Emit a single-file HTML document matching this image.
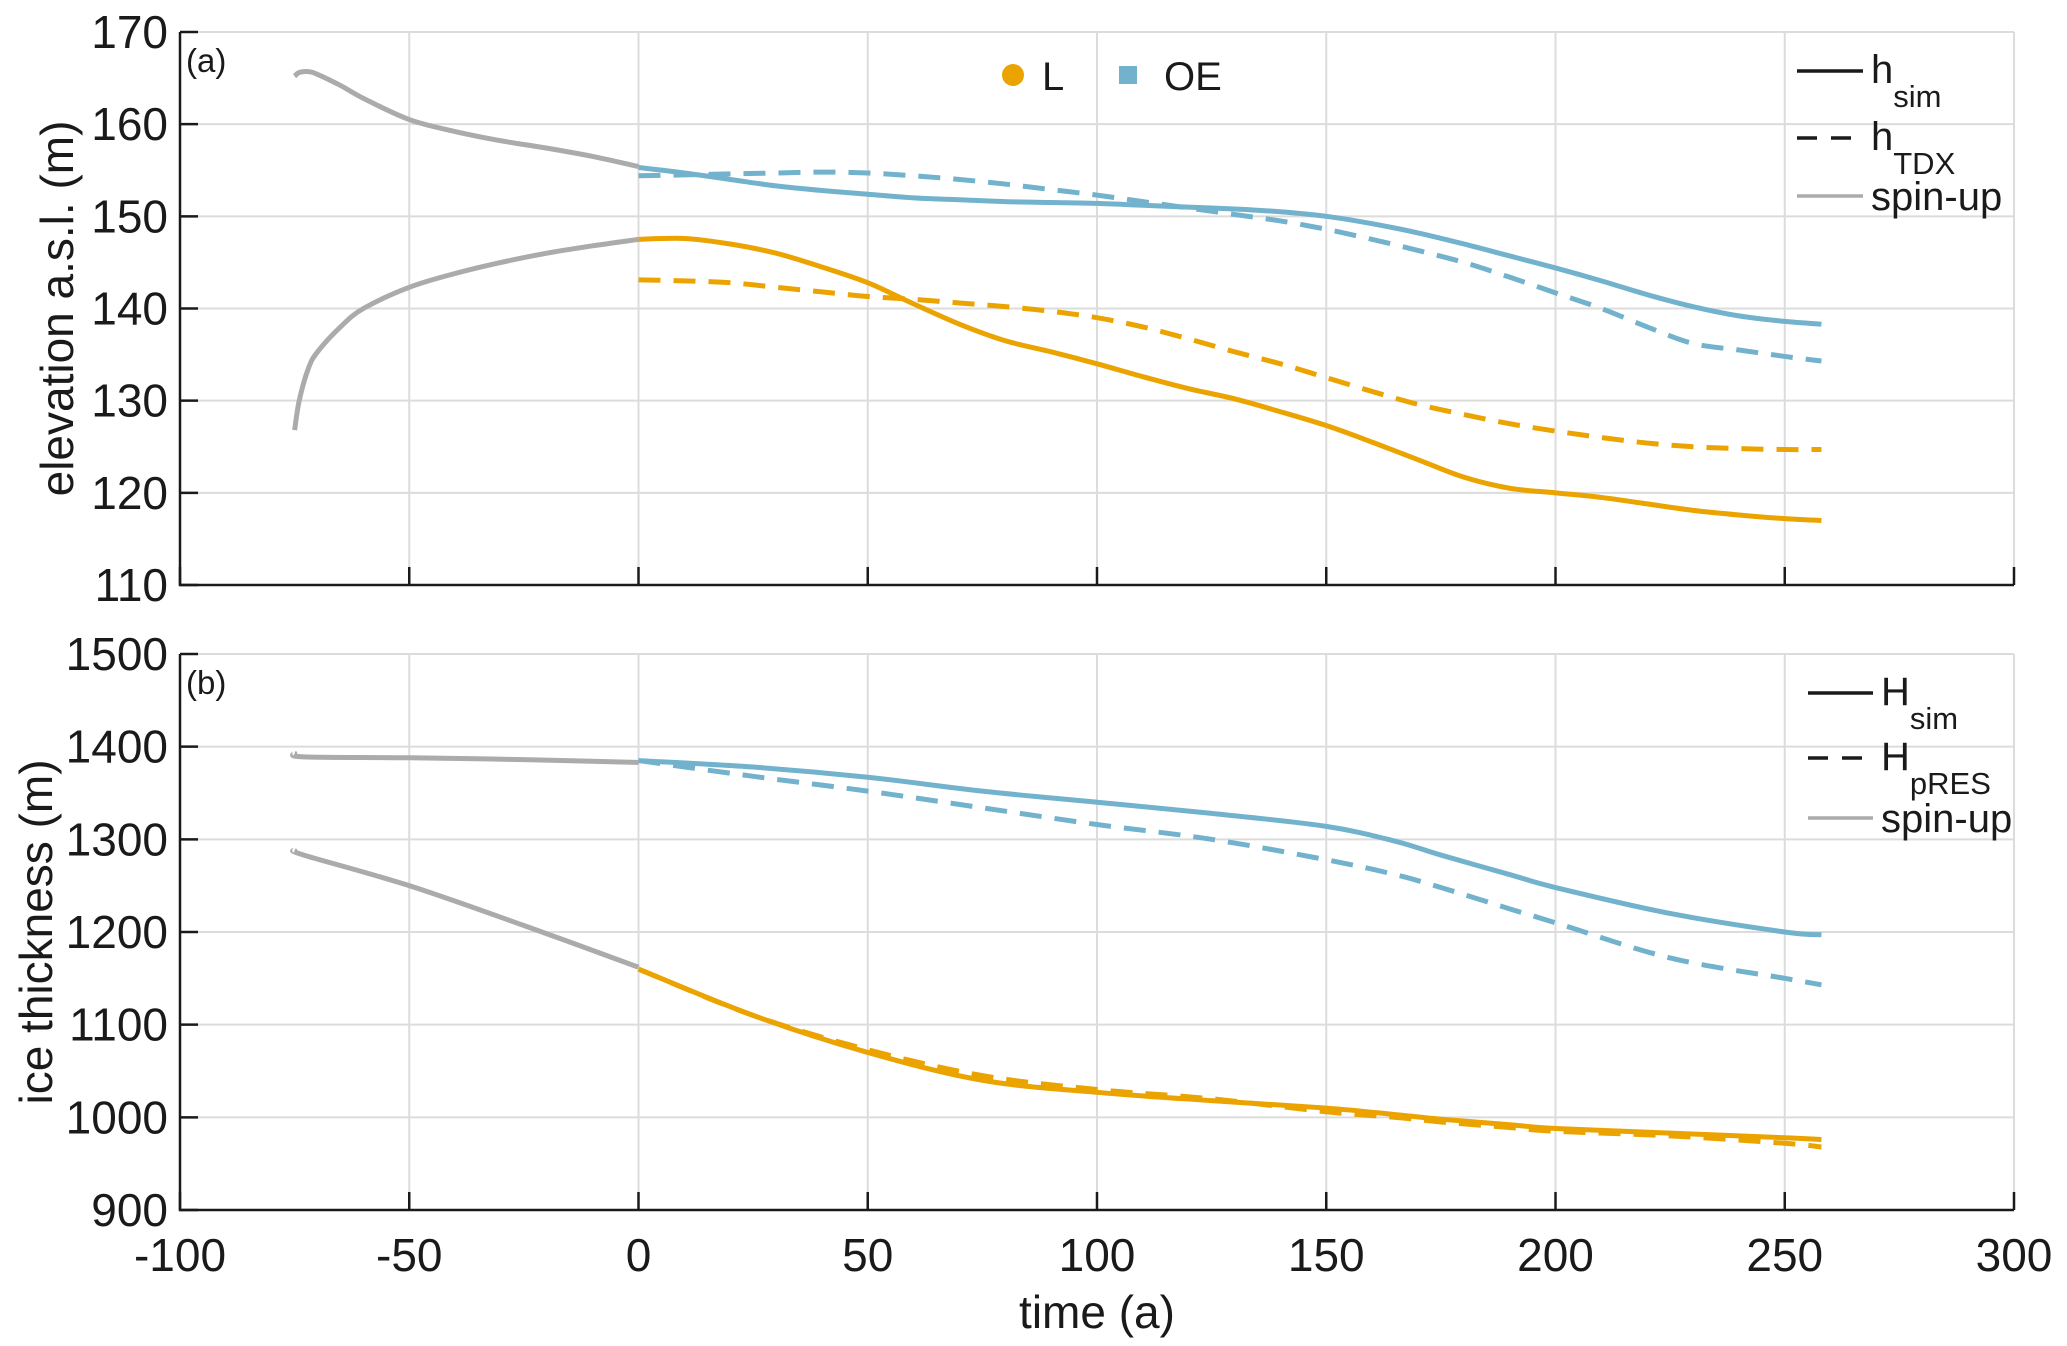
<!DOCTYPE html>
<html><head><meta charset="utf-8"><style>
html,body{margin:0;padding:0;background:#fff;}
svg{display:block;font-family:"Liberation Sans",Arial,sans-serif;}
</style></head><body>
<svg id="chart" width="2067" height="1346" viewBox="0 0 2067 1346" xmlns="http://www.w3.org/2000/svg"></svg>
<script>
const xTicks=[-100,-50,0,50,100,150,200,250,300];
const yTicksA=[110,120,130,140,150,160,170];
const yTicksB=[900,1000,1100,1200,1300,1400,1500];
const tSpinA=[-75,-74,-72,-70,-65,-60,-50,-40,-30,-20,-10,0];
const spinUpperA=[165.2,165.6,165.7,165.4,164.2,162.8,160.5,159.2,158.2,157.4,156.5,155.4];
const spinLowerA=[126.8,130,133.5,135.3,138,140,142.3,143.8,145,146,146.8,147.5];
const tA=[0,10,20,30,40,50,60,70,80,90,100,110,120,130,140,150,160,170,180,190,200,210,220,230,240,250,258];
const lSimA=[147.5,147.6,147,146,144.5,142.8,140.5,138.3,136.5,135.3,134,132.6,131.3,130.2,128.8,127.3,125.5,123.6,121.7,120.5,120,119.5,118.8,118.1,117.6,117.2,117];
const lTdxA=[143.1,143,142.8,142.3,141.8,141.3,141,140.6,140.2,139.7,139,138,136.7,135.3,134,132.5,131,129.6,128.5,127.5,126.7,126,125.4,125,124.8,124.7,124.7];
const oeSimA=[155.3,154.7,154,153.3,152.8,152.4,152,151.8,151.6,151.5,151.4,151.2,151,150.8,150.5,150,149.2,148.2,147,145.7,144.4,143,141.5,140.2,139.2,138.6,138.3];
const oeTdxA=[154.4,154.5,154.6,154.7,154.8,154.7,154.4,154,153.5,152.9,152.3,151.6,150.9,150.2,149.5,148.6,147.5,146.3,145,143.4,141.7,140,138,136.2,135.5,134.8,134.3];
const tSpinB=[-75,-73,-50,-25,0];
const spinUpperB=[1393,1389,1388,1386,1383];
const spinLowerB=[1288,1283,1250,1207,1162];
const tB=[0,25,50,75,100,125,150,165,175,190,200,225,250,258];
const oeSimB=[1385,1378,1367,1352,1340,1328,1314,1298,1283,1262,1248,1220,1200,1197];
const oePresB=[1385,1368,1352,1334,1316,1300,1278,1262,1248,1225,1210,1172,1150,1143];
const lSimB=[1160,1110,1070,1040,1027,1018,1010,1003,998,992,988,983,978,976];
const lPresB=[1160,1110,1073,1045,1030,1020,1006,1000,995,989,985,980,972,968];

const NS="http://www.w3.org/2000/svg";
const svg=document.getElementById('chart');
const X0=180,X1=2014;
const xs=v=>X0+(v+100)/400*(X1-X0);
function mk(tag,attrs,parent){const e=document.createElementNS(NS,tag);for(const k in attrs)e.setAttribute(k,attrs[k]);(parent||svg).appendChild(e);return e;}
function pathD(xa,ya,xf,yf){const p=xa.map((x,i)=>[xf(x),yf(ya[i])]);let d=`M${p[0][0]},${p[0][1]}`;
 for(let i=0;i<p.length-1;i++){const p0=p[Math.max(0,i-1)],p1=p[i],p2=p[i+1],p3=p[Math.min(p.length-1,i+2)];
 const c1=[p1[0]+(p2[0]-p0[0])/6,p1[1]+(p2[1]-p0[1])/6],c2=[p2[0]-(p3[0]-p1[0])/6,p2[1]-(p3[1]-p1[1])/6];
 d+=` C${c1[0]},${c1[1]} ${c2[0]},${c2[1]} ${p2[0]},${p2[1]}`;}return d;}
const OR="#eba300",BL="#72b2cd",GR="#ababab";
const FS=46;
function panel(name,top,bot,yt,label,ylab,ylabX){
 const ymin=yt[0],ymax=yt[yt.length-1];
 const ys=v=>bot-(v-ymin)/(ymax-ymin)*(bot-top);
 const g=mk('g',{});  
 xTicks.forEach(t=>{const l=mk('line',{x1:xs(t),x2:xs(t),y1:top,y2:bot,stroke:'#dcdcdc','stroke-width':2},g);});
 yt.forEach(t=>{const l=mk('line',{x1:X0,x2:X1,y1:ys(t),y2:ys(t),stroke:'#dcdcdc','stroke-width':2},g);
  const tx=mk('text',{x:X0-12,y:ys(t)+16,'text-anchor':'end','font-size':FS,fill:'#1a1a1a'},g);tx.textContent=t;
  mk('line',{x1:X0,x2:X0+18,y1:ys(t),y2:ys(t),stroke:'#1a1a1a','stroke-width':2.5},g);});
 xTicks.forEach(t=>{mk('line',{x1:xs(t),x2:xs(t),y1:bot,y2:bot-18,stroke:'#1a1a1a','stroke-width':2.5},g);});
 mk('polyline',{points:`${X0},${top} ${X0},${bot} ${X1},${bot}`,fill:'none',stroke:'#1a1a1a','stroke-width':2.5},g);
 const pl=mk('text',{x:X0+6,y:top+40,'font-size':33,fill:'#1a1a1a'},g);pl.textContent=label;
 const yl=mk('text',{x:ylabX,y:(top+bot)/2,'text-anchor':'middle','font-size':FS,fill:'#1a1a1a',transform:`rotate(-90 ${ylabX} ${(top+bot)/2})`},g);yl.textContent=ylab;
 return {g,ys};
}
function line(g,xa,ya,ys,color,dash,name){const p=mk('path',{d:pathD(xa,ya,xs,ys),fill:'none',stroke:color,'stroke-width':5,'stroke-dasharray':dash?'22 13':'none'},g);}

const A=panel('panel-a-elevation',32,585,yTicksA,'(a)','elevation a.s.l. (m)',73);
line(A.g,tSpinA,spinUpperA,A.ys,GR,false,'spinup-oe-line');
line(A.g,tSpinA,spinLowerA,A.ys,GR,false,'spinup-l-line');
line(A.g,tA,oeTdxA,A.ys,BL,true,'oe-htdx-line');
line(A.g,tA,lTdxA,A.ys,OR,true,'l-htdx-line');
line(A.g,tA,oeSimA,A.ys,BL,false,'oe-hsim-line');
line(A.g,tA,lSimA,A.ys,OR,false,'l-hsim-line');

const B=panel('panel-b-thickness',654,1210,yTicksB,'(b)','ice thickness (m)',52);
line(B.g,tSpinB,spinUpperB,B.ys,GR,false,'spinup-oe-line');
line(B.g,tSpinB,spinLowerB,B.ys,GR,false,'spinup-l-line');
line(B.g,tB,oePresB,B.ys,BL,true,'oe-hpres-line');
line(B.g,tB,lPresB,B.ys,OR,true,'l-hpres-line');
line(B.g,tB,oeSimB,B.ys,BL,false,'oe-hsim-line');
line(B.g,tB,lSimB,B.ys,OR,false,'l-hsim-line');

xTicks.forEach(t=>{const tx=mk('text',{x:xs(t),y:1271,'text-anchor':'middle','font-size':FS,fill:'#1a1a1a'});tx.textContent=t;

});
const xl=mk('text',{x:(X0+X1)/2,y:1328,'text-anchor':'middle','font-size':FS,fill:'#1a1a1a'});xl.textContent='time (a)';



const lg=mk('g',{});


mk('circle',{cx:1013,cy:75,r:11,fill:OR},lg);
let t1=mk('text',{x:1042,y:90,'font-size':40,fill:'#1a1a1a'},lg);t1.textContent='L';
mk('rect',{x:1119,y:66,width:18,height:18,fill:BL},lg);
let t2=mk('text',{x:1164,y:90,'font-size':40,fill:'#1a1a1a'},lg);t2.textContent='OE';

function legend(name,x1,x2,tx,ys,labels){const g=mk('g',{});
 const styles=[['#1a1a1a','none'],['#1a1a1a','20 14'],[GR,'none']];
 labels.forEach((lab,i)=>{mk('line',{x1,x2,y1:ys[i],y2:ys[i],stroke:styles[i][0],'stroke-width':3.5,'stroke-dasharray':styles[i][1]},g);
 const t=mk('text',{x:tx,y:ys[i]+14,'font-size':40,fill:'#1a1a1a'},g);
 if(lab[1]){const a=mk('tspan',{},t);a.textContent=lab[0];const b=mk('tspan',{dy:24,'font-size':31},t);b.textContent=lab[1];t.setAttribute('y',ys[i]+12);}
 else t.textContent=lab[0];});}
legend('elevation-legend',1797,1863,1871,[71,138,196],[['h','sim'],['h','TDX'],['spin-up','']]);
legend('thickness-legend',1808,1873,1881,[693,758,818],[['H','sim'],['H','pRES'],['spin-up','']]);
</script>
</body></html>
